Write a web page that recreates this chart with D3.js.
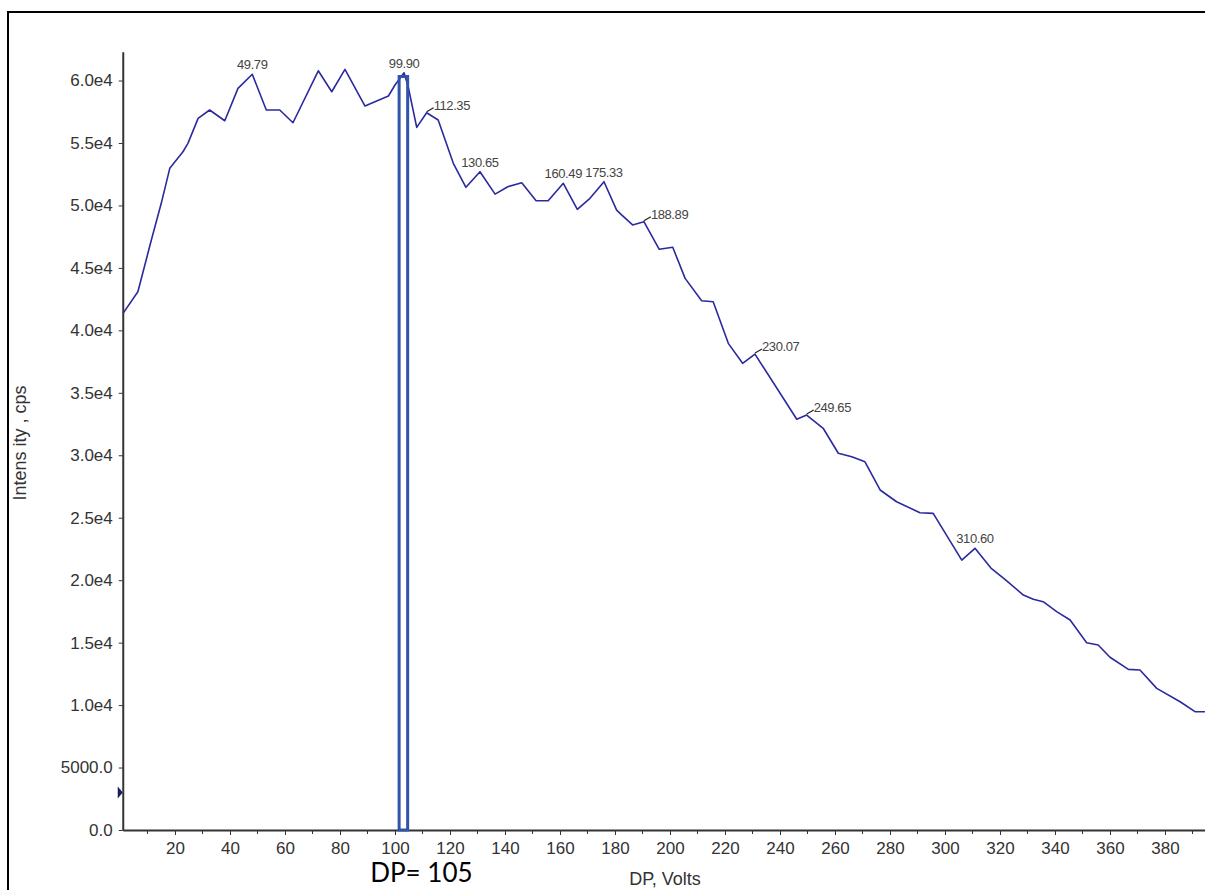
<!DOCTYPE html>
<html>
<head>
<meta charset="utf-8">
<script src="https://cdn.jsdelivr.net/npm/d3@7"></script>
<style>
  body { margin: 0; background: #fff; }
  svg { display: block; }
</style>
</head>
<body>
<svg id="chart"></svg>
<script>
// DP ramp
var dpVolts = [1.1, 6.5, 11.4, 15.0, 18.1, 22.9, 24.7, 28.4, 32.6, 38.1, 42.9, 48.1,
  53.2, 58.1, 62.9, 72.1, 77.0, 81.8, 89.1, 97.6, 100.0, 103.3, 104.8, 107.9,
  111.5, 115.7, 121.2, 125.8, 130.9, 136.4, 141.0, 146.1, 151.3, 155.7, 161.2,
  166.3, 170.9, 176.0, 180.6, 182.4, 186.4, 190.5, 196.1, 201.0, 205.5, 211.5,
  215.7, 221.2, 226.4, 230.9, 246.1, 249.7, 255.7, 261.2, 266.1, 270.9, 276.4,
  282.4, 290.9, 295.7, 306.1, 310.9, 316.7, 321.8, 328.5, 332.1, 335.7, 340.6,
  345.5, 351.5, 355.7, 360.0, 366.7, 370.9, 377.0, 385.5, 390.9, 394.5];
var intensity = [41360, 43090, 47230, 50170, 52970, 54300, 54970, 56970, 57640, 56780,
  59370, 60500, 57640, 57640, 56620, 60780, 59100, 60890, 57960, 58760, 59640,
  60620, 59500, 56250, 57420, 56840, 53370, 51450, 52700, 50910, 51500, 51820,
  50380, 50380, 51770, 49690, 50570, 51900, 49630, 49240, 48440, 48700, 46490,
  46650, 44160, 42370, 42290, 38960, 37360, 38100, 32880, 33220, 32160, 30160,
  29880, 29480, 27220, 26280, 25400, 25350, 21610, 22550, 20970, 20070, 18810,
  18470, 18280, 17480, 16810, 14990, 14810, 13830, 12860, 12810, 11340, 10270,
  9470, 9470];

var peakLabels = ["49.79", "99.90", "112.35", "130.65", "160.49", "175.33",
  "188.89", "230.07", "249.65", "310.60"];
var leaderPeaks = ["112.35", "188.89", "230.07", "249.65"];

var yTicks = [0, 5000, 10000, 15000, 20000, 25000, 30000, 35000, 40000, 45000,
  50000, 55000, 60000];
var xTicks = [20, 40, 60, 80, 100, 120, 140, 160, 180, 200, 220, 240, 260, 280,
  300, 320, 340, 360, 380];
var xMinorTicks = [10, 30, 50, 70, 90, 110, 130, 150, 170, 190, 210, 230, 250,
  270, 290, 310, 330, 350, 370, 390];

var highlightDP = [101.5, 104.6];
var highlightTop = 60320;
var highlightText = "DP= 105";
var markerLevel = 3000;

var W = 1205, H = 890;
var svg = d3.select("#chart").attr("width", W).attr("height", H);

svg.append("rect").attr("width", W).attr("height", H).attr("fill", "#fff");
// outer frame, cut off on the right and bottom like the screenshot
svg.append("rect")
  .attr("x", 8).attr("y", 12).attr("width", 1230).attr("height", 900)
  .attr("fill", "none").attr("stroke", "#000").attr("stroke-width", 2);

var x = d3.scaleLinear().domain([1, 400]).range([122.75, 1220]);
var y = d3.scaleLinear().domain([0, 62300]).range([830, 51.8]);

var yFmt = function (v) {
  if (v === 0) return "0.0";
  if (v < 10000) return v.toFixed(1);
  return (v / 1e4).toFixed(1) + "e4";
};

var yAxis = svg.append("g")
  .attr("transform", "translate(" + x(1) + ",0)")
  .call(d3.axisLeft(y).tickValues(yTicks).tickFormat(yFmt).tickSize(4).tickSizeOuter(0).tickPadding(6));

var xAxis = svg.append("g")
  .attr("transform", "translate(0," + y(0) + ")")
  .call(d3.axisBottom(x).tickValues(xTicks).tickFormat(d3.format("d")).tickSize(5).tickSizeOuter(0).tickPadding(7));

svg.append("g")
  .attr("transform", "translate(0," + y(0) + ")")
  .selectAll("line").data(xMinorTicks).enter().append("line")
  .attr("x1", function (d) { return x(d); }).attr("x2", function (d) { return x(d); })
  .attr("y1", 0).attr("y2", 4)
  .attr("stroke", "#333");

[yAxis, xAxis].forEach(function (g) {
  g.select(".domain").attr("stroke", "#333").attr("stroke-width", 2);
  g.selectAll(".tick line").attr("stroke", "#333");
  g.selectAll(".tick text")
    .attr("fill", "#333")
    .style("font-family", "'Liberation Sans', Arial, sans-serif")
    .style("font-size", "17px");
});

svg.append("text")
  .attr("transform", "translate(26,443) rotate(-90)")
  .attr("text-anchor", "middle")
  .attr("fill", "#333")
  .style("font-family", "'Liberation Sans', Arial, sans-serif")
  .style("font-size", "18px")
  .text("Intens ity , cps");

svg.append("text")
  .attr("x", 665).attr("y", 885)
  .attr("text-anchor", "middle")
  .attr("fill", "#333")
  .style("font-family", "'Liberation Sans', Arial, sans-serif")
  .style("font-size", "18px")
  .text("DP, Volts");

// threshold marker on the y axis
svg.append("path")
  .attr("d", "M" + (x(1) - 5) + "," + (y(markerLevel) - 6) + "L" + x(1) + "," + y(markerLevel) +
    "L" + (x(1) - 5) + "," + (y(markerLevel) + 6) + "Z")
  .attr("fill", "#1a1a5e");

var pts = dpVolts.map(function (d, i) { return {dp: d, v: intensity[i]}; });

var line = d3.line()
  .x(function (d) { return x(d.dp); })
  .y(function (d) { return y(d.v); });

svg.append("path")
  .datum(pts)
  .attr("d", line)
  .attr("fill", "none")
  .attr("stroke", "#2a2a9e")
  .attr("stroke-width", 1.6)
  .attr("stroke-linejoin", "round");

// peak labels sit on the nearest local maximum
function nearestPeak(val) {
  var best = null;
  pts.forEach(function (p, i) {
    if (i === 0 || i === pts.length - 1) return;
    if (p.v < pts[i - 1].v || p.v < pts[i + 1].v) return;
    if (best === null || Math.abs(p.dp - val) < Math.abs(best.dp - val)) best = p;
  });
  return best;
}

var labelG = svg.append("g")
  .style("font-family", "'Liberation Sans', Arial, sans-serif")
  .style("font-size", "13px")
  .style("letter-spacing", "-0.4px")
  .attr("fill", "#444");

peakLabels.forEach(function (lab) {
  var p = nearestPeak(+lab);
  var px = x(p.dp), py = y(p.v);
  if (leaderPeaks.indexOf(lab) >= 0) {
    labelG.append("line")
      .attr("x1", px).attr("y1", py - 1).attr("x2", px + 7).attr("y2", py - 5)
      .attr("stroke", "#222").attr("stroke-width", 1.2);
    labelG.append("text").attr("x", px + 7).attr("y", py - 3).text(lab);
  } else {
    labelG.append("text").attr("x", px).attr("y", py - 5)
      .attr("text-anchor", "middle").text(lab);
  }
});

// highlighted DP window
svg.append("rect")
  .attr("x", x(highlightDP[0])).attr("y", y(highlightTop))
  .attr("width", x(highlightDP[1]) - x(highlightDP[0]))
  .attr("height", y(0) - y(highlightTop))
  .attr("fill", "none").attr("stroke", "#2f54a8").attr("stroke-width", 3);

svg.append("text")
  .attr("x", (x(highlightDP[0]) + x(highlightDP[1])) / 2 + 18).attr("y", 882)
  .attr("text-anchor", "middle")
  .attr("fill", "#000")
  .style("font-family", "Lato, 'Open Sans', sans-serif")
  .style("font-size", "26px")
  .text(highlightText);
</script>
</body>
</html>
